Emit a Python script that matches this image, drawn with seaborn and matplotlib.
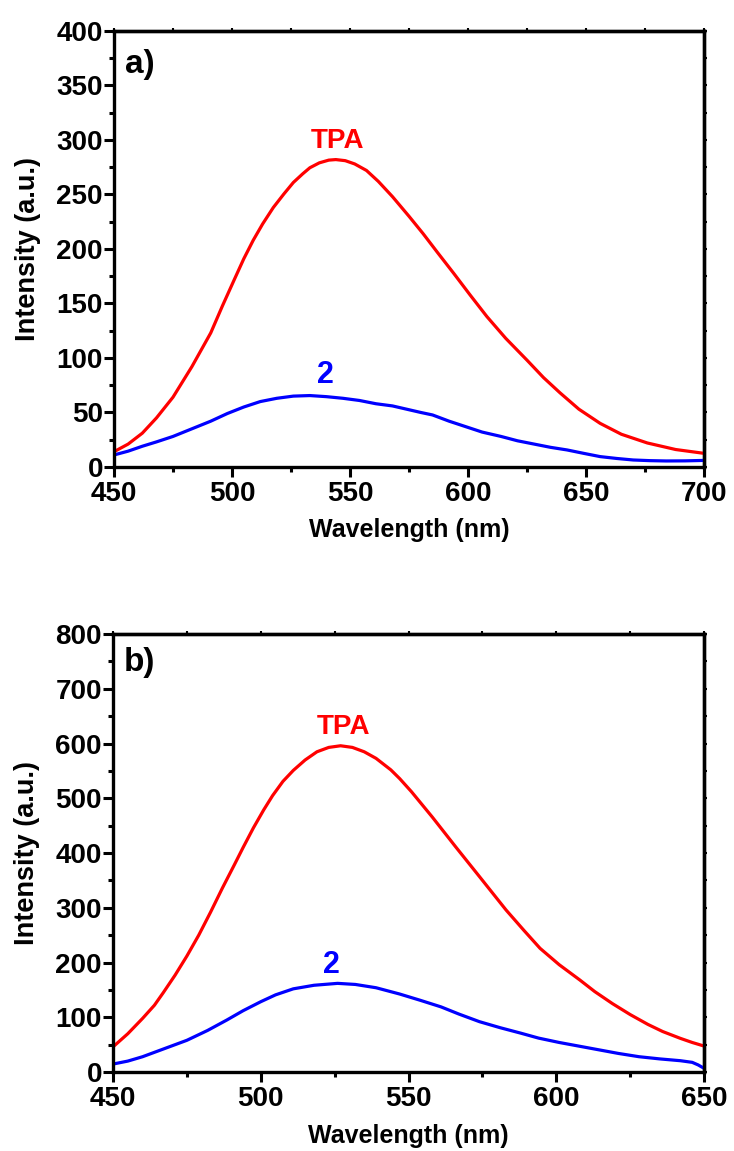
import numpy as np
import pandas as pd
import matplotlib
matplotlib.use("Agg")
import matplotlib.pyplot as plt
from matplotlib.ticker import MultipleLocator
import seaborn as sns

# ~~~~~~~~~~~~~ Panel a) emission spectra ~~~~~~~~~~~~~
a_tpa_wl = [450, 456, 462, 468, 475, 483, 491, 496, 501, 505, 509, 513, 517.5, 522, 526, 530,
            533, 537, 541, 544, 548, 552, 557, 562, 568, 575, 581, 587, 594, 601, 608, 616,
            625, 632, 639, 647, 656, 665, 676, 688, 700]
a_tpa_int = [14, 21, 31, 45, 64, 92, 123, 148, 172, 191, 208, 223, 238, 250.5, 261, 269,
             274.5, 279, 281.5, 282, 281, 278, 272, 262, 248, 230, 214, 197, 177.5, 157.5, 138, 118,
             98, 82, 68, 53, 40, 30, 22, 16, 12.5]
a_two_wl = [450, 456, 462, 468, 475, 483, 491, 498, 505, 512, 519, 526, 533, 540, 547, 554,
            561, 568, 575, 580, 585, 592, 599, 606, 614, 621, 628, 635, 642, 649, 656, 663,
            670, 677, 684, 692, 700]
a_two_int = [11, 14.5, 19, 23, 28, 35, 42, 49, 55, 60, 63, 65, 65.5, 64.5, 63, 61,
             58, 56, 52.5, 50, 47.7, 42, 37, 32, 28, 24, 21, 18, 15.6, 12.5, 9.5, 7.8,
             6.4, 5.8, 5.5, 5.6, 6]

# ~~~~~~~~~~~~~ Panel b) emission spectra ~~~~~~~~~~~~~
b_tpa_wl = [450, 455, 460, 464, 467, 471, 475, 479, 483, 487, 491, 494, 497.5, 501, 504, 507.5,
            511, 515, 519, 523, 527, 531, 535, 539, 544, 547, 551, 558, 566, 574, 583, 589,
            594.5, 601, 608, 613, 619, 625, 631, 636, 642, 646, 650]
b_tpa_int = [46, 70, 98, 122, 145, 177, 212, 250, 292, 336, 378, 410, 446, 479, 505, 531,
             551, 570, 585, 593, 596, 593, 585, 573, 552, 536, 512, 466, 411, 357, 296, 259,
             226, 196, 168, 147, 125, 105, 87, 74, 61.5, 54, 47.5]
b_two_wl = [450, 455, 460, 467, 475, 482, 488.5, 494, 500, 505, 511, 518, 526, 532, 539, 547,
            554, 561, 567, 574, 581, 588, 594, 601, 608, 615, 621, 628, 635, 642, 646, 648, 650]
b_two_int = [14.6, 20, 28, 42, 58, 76, 95, 112, 128.5, 141, 152, 158.5, 162, 160, 154, 142.5,
             131, 119, 106, 92, 81, 71, 62, 54, 47, 40, 34, 28, 24, 20.7, 17.7, 13, 6.8]

series_names = ["TPA", "2"]
series_colors = ["#FF0000", "#0000FF"]

sns.set_theme(style="ticks")
plt.rcParams['font.family'] = ['Liberation Sans', 'DejaVu Sans']
plt.rcParams['font.weight'] = 'bold'
plt.rcParams['axes.labelweight'] = 'bold'
plt.rcParams['text.color'] = 'black'
plt.rcParams['axes.labelcolor'] = 'black'
plt.rcParams['xtick.color'] = 'black'
plt.rcParams['ytick.color'] = 'black'
plt.rcParams['axes.edgecolor'] = 'black'


def make_df(tpa_wl, tpa_int, two_wl, two_int):
    df1 = pd.DataFrame({'wl': tpa_wl, 'intensity': tpa_int, 'sample': series_names[0]})
    df2 = pd.DataFrame({'wl': two_wl, 'intensity': two_int, 'sample': series_names[1]})
    return pd.concat([df1, df2], ignore_index=True)


def style_axes(ax, xlim, ylim, xmajor, ymajor):
    ax.set_xlim(xlim)
    ax.set_ylim(ylim)
    ax.xaxis.set_major_locator(MultipleLocator(xmajor))
    ax.xaxis.set_minor_locator(MultipleLocator(xmajor / 2))
    ax.yaxis.set_major_locator(MultipleLocator(ymajor))
    ax.yaxis.set_minor_locator(MultipleLocator(ymajor / 2))
    for sp in ax.spines.values():
        sp.set_visible(True)
        sp.set_linewidth(2.4)
        sp.set_color('black')
    ax.tick_params(which='major', direction='out', length=7, width=2.2, colors='black')
    ax.tick_params(which='minor', direction='out', length=3.5, width=2.2, colors='black')
    ax.tick_params(axis='x', which='major', labelsize=20, pad=3)
    ax.tick_params(axis='y', which='major', labelsize=20, pad=1)
    for lab in ax.get_xticklabels() + ax.get_yticklabels():
        lab.set_fontweight('bold')
    # short ticks on top and right
    top = ax.secondary_xaxis('top')
    top.xaxis.set_major_locator(MultipleLocator(xmajor / 2))
    top.tick_params(direction='out', length=2.5, width=1.5, labeltop=False, colors='black')
    top.spines['top'].set_linewidth(2.4)
    right = ax.secondary_yaxis('right')
    right.yaxis.set_major_locator(MultipleLocator(ymajor / 2))
    right.tick_params(direction='out', length=2.5, width=1.5, labelright=False, colors='black')
    right.spines['right'].set_linewidth(2.4)
    ax.set_xlabel("Wavelength (nm)", fontsize=18, fontweight='bold', color='black')
    ax.set_ylabel("Intensity (a.u.)", fontsize=19.5, fontweight='bold', color='black')
    ax.xaxis.set_label_coords(0.5, -0.118)
    ax.yaxis.set_label_coords(-0.124, 0.5)


fig = plt.figure(figsize=(7.34, 11.51), dpi=100)
ax1 = fig.add_axes([0.1553, 0.5943, 0.8038, 0.3788])
ax2 = fig.add_axes([0.1540, 0.0686, 0.8052, 0.3805])

df_a = make_df(a_tpa_wl, a_tpa_int, a_two_wl, a_two_int)
df_b = make_df(b_tpa_wl, b_tpa_int, b_two_wl, b_two_int)

for ax, df in [(ax1, df_a), (ax2, df_b)]:
    sns.lineplot(data=df, x='wl', y='intensity', hue='sample', palette=series_colors,
                 linewidth=2.3, legend=False, ax=ax, sort=True)

style_axes(ax1, (450, 700), (0, 400), 50, 50)
style_axes(ax2, (450, 650), (0, 800), 50, 100)

# curve labels
ax1.text(544.9, 299, "TPA", color=series_colors[0], fontsize=20, fontweight='bold', ha='center', va='center')
ax1.text(539.4, 84, "2", color=series_colors[1], fontsize=22, fontweight='bold', ha='center', va='center')
ax2.text(528, 631, "TPA", color=series_colors[0], fontsize=20, fontweight='bold', ha='center', va='center')
ax2.text(523.8, 195, "2", color=series_colors[1], fontsize=22, fontweight='bold', ha='center', va='center')

ax1.text(0.044, 0.922, "a)", transform=ax1.transAxes, fontsize=24, fontweight='bold', ha='center', va='center')
ax2.text(0.044, 0.934, "b)", transform=ax2.transAxes, fontsize=24, fontweight='bold', ha='center', va='center')

fig.savefig("out.png", dpi=100, facecolor='white')
